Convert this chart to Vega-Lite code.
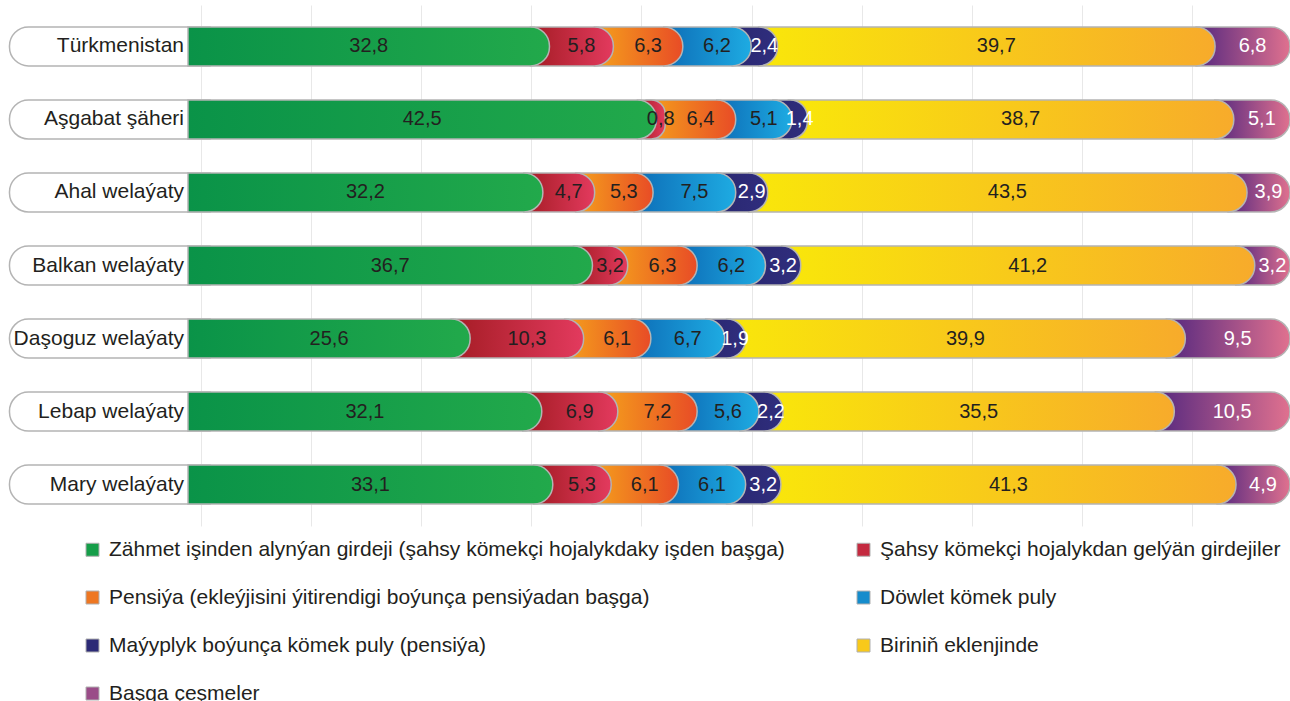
{
  "$schema": "https://vega.github.io/schema/vega-lite/v6.json",
  "width": 1290,
  "height": 521,
  "padding": {"top": 5, "left": 0, "right": 0, "bottom": 0},
  "autosize": {"type": "pad"},
  "config": {
    "view": {"stroke": null},
    "font": "Liberation Sans",
    "text": {"font": "Liberation Sans"},
    "locale": {"number": {"decimal": ",", "thousands": " ", "grouping": [3], "currency": ["", ""]}}
  },
  "datasets": {
    "cats": [
      {"k": 0, "c": "Zähmet işinden alynýan girdeji (şahsy kömekçi hojalykdaky işden başga)"},
      {"k": 1, "c": "Şahsy kömekçi hojalykdan gelýän girdejiler"},
      {"k": 2, "c": "Pensiýa (ekleýjisini ýitirendigi boýunça pensiýadan başga)"},
      {"k": 3, "c": "Döwlet kömek puly"},
      {"k": 4, "c": "Maýyplyk boýunça kömek puly (pensiýa)"},
      {"k": 5, "c": "Biriniň eklenjinde"},
      {"k": 6, "c": "Başga çeşmeler"}
    ],
    "d": [
      {"r": "Türkmenistan", "k": 0, "v": 32.8},
      {"r": "Türkmenistan", "k": 1, "v": 5.8},
      {"r": "Türkmenistan", "k": 2, "v": 6.3},
      {"r": "Türkmenistan", "k": 3, "v": 6.2},
      {"r": "Türkmenistan", "k": 4, "v": 2.4},
      {"r": "Türkmenistan", "k": 5, "v": 39.7},
      {"r": "Türkmenistan", "k": 6, "v": 6.8},
      {"r": "Aşgabat şäheri", "k": 0, "v": 42.5},
      {"r": "Aşgabat şäheri", "k": 1, "v": 0.8},
      {"r": "Aşgabat şäheri", "k": 2, "v": 6.4},
      {"r": "Aşgabat şäheri", "k": 3, "v": 5.1},
      {"r": "Aşgabat şäheri", "k": 4, "v": 1.4},
      {"r": "Aşgabat şäheri", "k": 5, "v": 38.7},
      {"r": "Aşgabat şäheri", "k": 6, "v": 5.1},
      {"r": "Ahal welaýaty", "k": 0, "v": 32.2},
      {"r": "Ahal welaýaty", "k": 1, "v": 4.7},
      {"r": "Ahal welaýaty", "k": 2, "v": 5.3},
      {"r": "Ahal welaýaty", "k": 3, "v": 7.5},
      {"r": "Ahal welaýaty", "k": 4, "v": 2.9},
      {"r": "Ahal welaýaty", "k": 5, "v": 43.5},
      {"r": "Ahal welaýaty", "k": 6, "v": 3.9},
      {"r": "Balkan welaýaty", "k": 0, "v": 36.7},
      {"r": "Balkan welaýaty", "k": 1, "v": 3.2},
      {"r": "Balkan welaýaty", "k": 2, "v": 6.3},
      {"r": "Balkan welaýaty", "k": 3, "v": 6.2},
      {"r": "Balkan welaýaty", "k": 4, "v": 3.2},
      {"r": "Balkan welaýaty", "k": 5, "v": 41.2},
      {"r": "Balkan welaýaty", "k": 6, "v": 3.2},
      {"r": "Daşoguz welaýaty", "k": 0, "v": 25.6},
      {"r": "Daşoguz welaýaty", "k": 1, "v": 10.3},
      {"r": "Daşoguz welaýaty", "k": 2, "v": 6.1},
      {"r": "Daşoguz welaýaty", "k": 3, "v": 6.7},
      {"r": "Daşoguz welaýaty", "k": 4, "v": 1.9},
      {"r": "Daşoguz welaýaty", "k": 5, "v": 39.9},
      {"r": "Daşoguz welaýaty", "k": 6, "v": 9.5},
      {"r": "Lebap welaýaty", "k": 0, "v": 32.1},
      {"r": "Lebap welaýaty", "k": 1, "v": 6.9},
      {"r": "Lebap welaýaty", "k": 2, "v": 7.2},
      {"r": "Lebap welaýaty", "k": 3, "v": 5.6},
      {"r": "Lebap welaýaty", "k": 4, "v": 2.2},
      {"r": "Lebap welaýaty", "k": 5, "v": 35.5},
      {"r": "Lebap welaýaty", "k": 6, "v": 10.5},
      {"r": "Mary welaýaty", "k": 0, "v": 33.1},
      {"r": "Mary welaýaty", "k": 1, "v": 5.3},
      {"r": "Mary welaýaty", "k": 2, "v": 6.1},
      {"r": "Mary welaýaty", "k": 3, "v": 6.1},
      {"r": "Mary welaýaty", "k": 4, "v": 3.2},
      {"r": "Mary welaýaty", "k": 5, "v": 41.3},
      {"r": "Mary welaýaty", "k": 6, "v": 4.9}
    ]
  },
  "data": {"name": "d"},
  "transform": [
    {"lookup": "k", "from": {"data": {"name": "cats"}, "key": "k", "fields": ["c"]}},
    {"stack": "v", "groupby": ["r"], "sort": [{"field": "k", "order": "ascending"}], "as": ["s", "e"]}
  ],
  "encoding": {
    "y": {
      "field": "r",
      "type": "nominal",
      "sort": null,
      "scale": {
        "domain": ["Türkmenistan", "Aşgabat şäheri", "Ahal welaýaty", "Balkan welaýaty", "Daşoguz welaýaty", "Lebap welaýaty", "Mary welaýaty"],
        "paddingInner": 0.466,
        "paddingOuter": 0.3
      },
      "axis": null
    }
  },
  "layer": [
    {
      "transform": [{"filter": "datum.k == 0"}],
      "mark": {"type": "bar", "fill": "white", "stroke": "#b4b4b4", "strokeWidth": 1.5, "cornerRadiusTopLeft": 19, "cornerRadiusBottomLeft": 19},
      "encoding": {
        "x": {
          "datum": -16.2,
          "type": "quantitative",
          "scale": {"domain": [-17.06, 100], "nice": false, "zero": false},
          "axis": {
            "values": [1.15, 11.15, 21.15, 31.15, 41.15, 51.15, 61.15, 71.15, 81.15, 91.15],
            "grid": true, "gridColor": "#e8e8e8", "gridWidth": 1,
            "labels": false, "ticks": false, "domain": false, "title": null
          }
        },
        "x2": {"datum": 2}
      }
    },
    {
      "transform": [{"filter": "datum.k == 0"}],
      "mark": {"type": "bar", "opacity": 0},
      "encoding": {
        "x": {"field": "s", "type": "quantitative"},
        "x2": {"field": "e"},
        "fill": {
          "field": "c",
          "type": "nominal",
          "scale": {
            "domain": [
              "Zähmet işinden alynýan girdeji (şahsy kömekçi hojalykdaky işden başga)",
              "Şahsy kömekçi hojalykdan gelýän girdejiler",
              "Pensiýa (ekleýjisini ýitirendigi boýunça pensiýadan başga)",
              "Döwlet kömek puly",
              "Maýyplyk boýunça kömek puly (pensiýa)",
              "Biriniň eklenjinde",
              "Başga çeşmeler"
            ],
            "range": ["#159e49", "#c42a40", "#ee7722", "#158ccc", "#2c2a76", "#f8c91a", "#9a4c88"]
          },
          "legend": {
            "orient": "none",
            "direction": "horizontal",
            "legendX": 82,
            "legendY": 534,
            "columns": 2,
            "title": null,
            "symbolType": "square",
            "symbolSize": 169,
            "symbolOpacity": 1,
            "symbolStrokeColor": "#b0b0b0",
            "symbolStrokeWidth": 1,
            "labelFont": "Liberation Sans",
            "labelFontSize": 21,
            "labelColor": "#231f20",
            "labelOffset": 6,
            "labelLimit": 1000,
            "rowPadding": 26,
            "columnPadding": 68
          }
        }
      }
    },
    {
      "transform": [{"filter": "datum.k == 6"}],
      "mark": {"type": "bar", "xOffset": -19, "stroke": "#b4b4b4", "strokeWidth": 1.5, "cornerRadiusTopRight": 19, "cornerRadiusBottomRight": 19,
        "fill": {"gradient": "linear", "x1": 0, "y1": 0, "x2": 1, "y2": 0, "stops": [{"offset": 0, "color": "#55287f"}, {"offset": 1, "color": "#e0718f"}]}},
      "encoding": {"x": {"field": "s", "type": "quantitative"}, "x2": {"field": "e"}}
    },
    {
      "transform": [{"filter": "datum.k == 5"}],
      "mark": {"type": "bar", "xOffset": -19, "stroke": "#b4b4b4", "strokeWidth": 1.5, "cornerRadiusTopRight": 19, "cornerRadiusBottomRight": 19,
        "fill": {"gradient": "linear", "x1": 0, "y1": 0, "x2": 1, "y2": 0, "stops": [{"offset": 0, "color": "#f9e70a"}, {"offset": 1, "color": "#f7ab2b"}]}},
      "encoding": {"x": {"field": "s", "type": "quantitative"}, "x2": {"field": "e"}}
    },
    {
      "transform": [{"filter": "datum.k == 4"}],
      "mark": {"type": "bar", "xOffset": -19, "stroke": "#b4b4b4", "strokeWidth": 1.5, "cornerRadiusTopRight": 19, "cornerRadiusBottomRight": 19,
        "fill": {"gradient": "linear", "x1": 0, "y1": 0, "x2": 1, "y2": 0, "stops": [{"offset": 0, "color": "#292770"}, {"offset": 1, "color": "#302e7e"}]}},
      "encoding": {"x": {"field": "s", "type": "quantitative"}, "x2": {"field": "e"}}
    },
    {
      "transform": [{"filter": "datum.k == 3"}],
      "mark": {"type": "bar", "xOffset": -19, "stroke": "#b4b4b4", "strokeWidth": 1.5, "cornerRadiusTopRight": 19, "cornerRadiusBottomRight": 19,
        "fill": {"gradient": "linear", "x1": 0, "y1": 0, "x2": 1, "y2": 0, "stops": [{"offset": 0, "color": "#0d6db7"}, {"offset": 1, "color": "#1eabe2"}]}},
      "encoding": {"x": {"field": "s", "type": "quantitative"}, "x2": {"field": "e"}}
    },
    {
      "transform": [{"filter": "datum.k == 2"}],
      "mark": {"type": "bar", "xOffset": -19, "stroke": "#b4b4b4", "strokeWidth": 1.5, "cornerRadiusTopRight": 19, "cornerRadiusBottomRight": 19,
        "fill": {"gradient": "linear", "x1": 0, "y1": 0, "x2": 1, "y2": 0, "stops": [{"offset": 0, "color": "#f5a11c"}, {"offset": 1, "color": "#e84c26"}]}},
      "encoding": {"x": {"field": "s", "type": "quantitative"}, "x2": {"field": "e"}}
    },
    {
      "transform": [{"filter": "datum.k == 1"}],
      "mark": {"type": "bar", "xOffset": -19, "stroke": "#b4b4b4", "strokeWidth": 1.5, "cornerRadiusTopRight": 19, "cornerRadiusBottomRight": 19,
        "fill": {"gradient": "linear", "x1": 0, "y1": 0, "x2": 1, "y2": 0, "stops": [{"offset": 0, "color": "#a41c24"}, {"offset": 1, "color": "#e33a5e"}]}},
      "encoding": {"x": {"field": "s", "type": "quantitative"}, "x2": {"field": "e"}}
    },
    {
      "transform": [{"filter": "datum.k == 0"}],
      "mark": {"type": "bar", "stroke": "#b4b4b4", "strokeWidth": 1.5, "cornerRadiusTopRight": 19, "cornerRadiusBottomRight": 19,
        "fill": {"gradient": "linear", "x1": 0, "y1": 0, "x2": 1, "y2": 0, "stops": [{"offset": 0, "color": "#0a9348"}, {"offset": 1, "color": "#22a94b"}]}},
      "encoding": {"x": {"field": "s", "type": "quantitative"}, "x2": {"field": "e"}}
    },
    {
      "mark": {"type": "text", "fontSize": 20, "baseline": "middle", "align": "center"},
      "encoding": {
        "x": {"field": "v", "type": "quantitative", "stack": "zero", "bandPosition": 0.5},
        "order": {"field": "k", "sort": "ascending"},
        "text": {"field": "v", "type": "quantitative", "format": ".1f"},
        "color": {"condition": {"test": "datum.k == 4 || datum.k == 6", "value": "#ffffff"}, "value": "#231f20"}
      }
    },
    {
      "transform": [{"filter": "datum.k == 0"}],
      "mark": {"type": "text", "fontSize": 21, "baseline": "middle", "align": "right", "color": "#231f20"},
      "encoding": {
        "x": {"datum": -0.36, "type": "quantitative"},
        "text": {"field": "r"}
      }
    }
  ]
}
